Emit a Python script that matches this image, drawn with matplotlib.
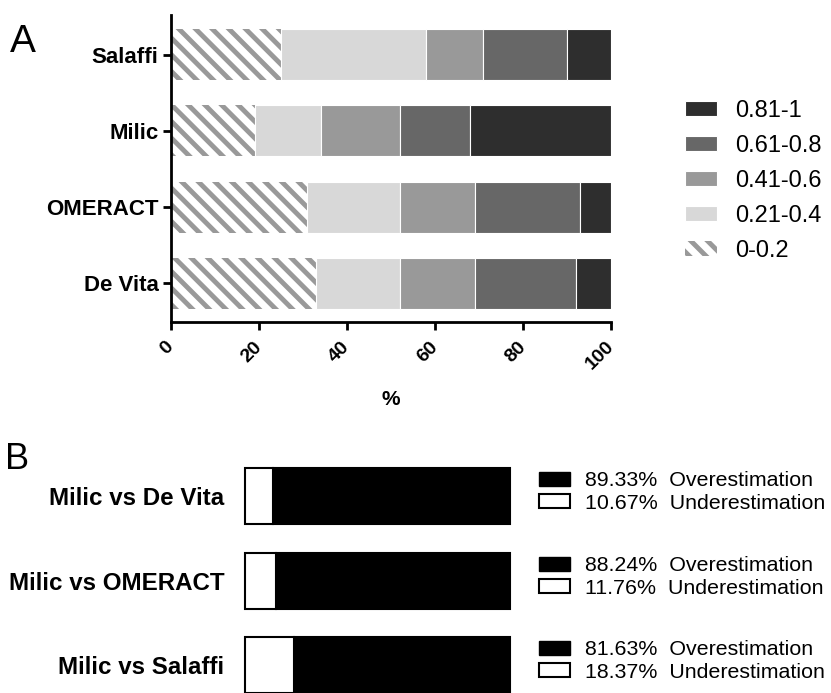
import matplotlib
matplotlib.use("Agg")
import matplotlib.pyplot as plt
from matplotlib.patches import Patch

plt.rcParams['font.family'] = ['Liberation Sans', 'DejaVu Sans']
plt.rcParams['hatch.linewidth'] = 3.5

# Panel A data (% of patients per agreement class)
scores = ["De Vita", "OMERACT", "Milic", "Salaffi"]
classes = ["0-0.2", "0.21-0.4", "0.41-0.6", "0.61-0.8", "0.81-1"]
class_values = [
    [33, 31, 19, 25],   # 0-0.2
    [19, 21, 15, 33],   # 0.21-0.4
    [17, 17, 18, 13],   # 0.41-0.6
    [23, 24, 16, 19],   # 0.61-0.8
    [8, 7, 32, 10],     # 0.81-1
]
class_colors = ["white", "#d8d8d8", "#999999", "#676767", "#2e2e2e"]

# Panel B data
comparisons = ["Milic vs De Vita", "Milic vs OMERACT", "Milic vs Salaffi"]
overestimation = [89.33, 88.24, 81.63]
underestimation = [10.67, 11.76, 18.37]

W, H = 831, 693
fig = plt.figure(figsize=(W / 100, H / 100), dpi=100)


def px_axes(x0, y0, x1, y1):
    # pixel box (top-left origin) -> figure axes
    return fig.add_axes([x0 / W, 1 - y1 / H, (x1 - x0) / W, (y1 - y0) / H])


# ---- Panel A ----
ax = px_axes(171, 15, 611, 322)
ypos = list(range(len(scores)))
left = [0] * len(scores)
handles = []
for i, (lab, vals, col) in enumerate(zip(classes, class_values, class_colors)):
    if i == 0:
        b = ax.barh(ypos, vals, left=left, height=0.67, color="white",
                    edgecolor="#999999", linewidth=0, hatch="\\\\")
    else:
        b = ax.barh(ypos, vals, left=left, height=0.67, color=col,
                    edgecolor="white", linewidth=0.8)
    handles.append(b)
    left = [l + v for l, v in zip(left, vals)]

ax.set_xlim(0, 100)
ax.set_ylim(-0.505, 3.518)
ax.set_yticks(ypos, scores, fontsize=16, fontweight="bold")
ax.set_xticks([0, 20, 40, 60, 80, 100])
ax.set_xticklabels([0, 20, 40, 60, 80, 100], fontsize=14, fontweight="bold",
                   rotation=45, ha="right", va="center", rotation_mode="anchor")
ax.tick_params(axis="both", width=2, length=6, pad=3)
ax.tick_params(axis="x", pad=10)
for s in ["top", "right"]:
    ax.spines[s].set_visible(False)
for s in ["left", "bottom"]:
    ax.spines[s].set_linewidth(2)
ax.set_xlabel("%", fontsize=15, fontweight="bold", labelpad=12)

leg = ax.legend(handles[::-1], classes[::-1], loc="upper left",
                bbox_to_anchor=(685 / W, 1 - 100 / H), bbox_transform=fig.transFigure,
                frameon=False, fontsize=17, handlelength=1.36, handleheight=0.6,
                handletextpad=0.76, labelspacing=0.55, borderpad=0, borderaxespad=0)

fig.text(10 / W, 1 - 52 / H, "A", fontsize=28, va="baseline")

# ---- Panel B ----
rows = [(468, 524), (553, 609), (637, 693)]
for (y0, y1), name, over, under in zip(rows, comparisons, overestimation, underestimation):
    bx = px_axes(245, y0, 510, y1)
    b_over = bx.barh(0, over, left=under, height=1, color="black",
                     edgecolor="black", linewidth=1.5, clip_on=False)
    b_under = bx.barh(0, under, height=1, color="white",
                      edgecolor="black", linewidth=1.5, clip_on=False)
    bx.set_xlim(0, 100)
    bx.set_ylim(-0.5, 0.5)
    bx.set_xticks([])
    bx.set_yticks([0], [name], fontsize=17.4, fontweight="bold")
    bx.tick_params(axis="y", length=0, pad=15)
    for s in bx.spines.values():
        s.set_visible(False)
    bx.legend([Patch(facecolor="black", edgecolor="black"),
               Patch(facecolor="white", edgecolor="black", linewidth=1.5)],
              [f"{over:.2f}%  Overestimation", f"{under:.2f}%  Underestimation"],
              loc="center left", bbox_to_anchor=(1.109, 0.57), frameon=False,
              fontsize=15.4, handlelength=1.45, handleheight=0.65,
              handletextpad=0.7, labelspacing=0.15, borderpad=0, borderaxespad=0)

fig.text(5 / W, 1 - 469 / H, "B", fontsize=26, va="baseline")

fig.savefig("out.png", dpi=100)
